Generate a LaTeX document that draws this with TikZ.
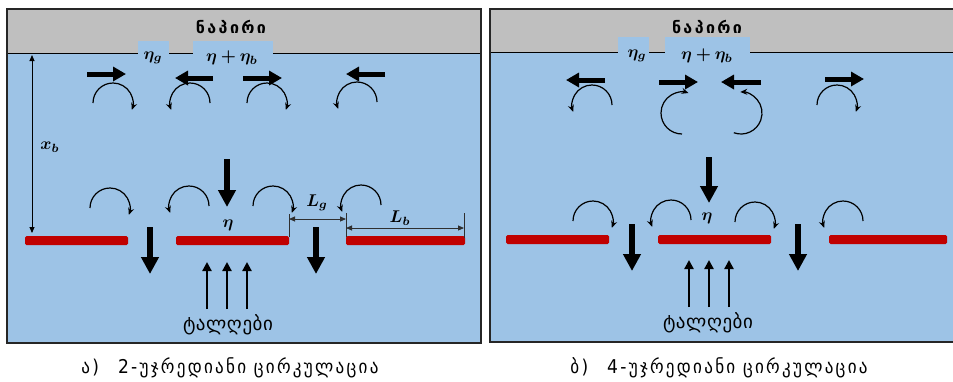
\documentclass[tikz,border=0pt]{standalone}
\usepackage{bm}
\usepackage{fontspec}
\newfontfamily\geo[LetterSpace=3]{DejaVu Sans}
\newfontfamily\geoshore[LetterSpace=15]{DejaVu Sans}
\newfontfamily\geocond[LetterSpace=12]{DejaVu Sans Condensed}
\usetikzlibrary{arrows.meta}
\definecolor{water}{HTML}{9DC3E6}
\definecolor{shore}{HTML}{BFBFBF}
\definecolor{barred}{HTML}{C00000}
\definecolor{dimgray}{HTML}{2F2F2F}
\tikzset{
  border/.style={draw=black!85, line width=1.6pt},
  thickarrow/.style={line width=5pt, -{Triangle[length=13pt,width=14pt]}},
  thickdown/.style={line width=5.5pt, -{Triangle[length=17pt,width=17pt]}},
  thinarc/.style={line width=1.2pt, -{Stealth[length=7pt,width=6pt]}},
  wavearrow/.style={line width=2.2pt, -{Triangle[length=9pt,width=9pt]}},
  dimline/.style={dimgray, line width=0.9pt, {Triangle[length=6pt,width=5pt]}-{Triangle[length=6pt,width=5pt]}},
  dimtick/.style={dimgray, line width=0.9pt},
  barbox/.style={fill=barred, rounded corners=1.5pt},
  mathlbl/.style={inner sep=0pt},
  shorelbl/.style={inner sep=0pt, font=\geoshore\bfseries\fontsize{16}{18}\selectfont},
  wavelbl/.style={inner sep=0pt, font=\geo\fontsize{19}{21}\selectfont},
  caplbl/.style={inner sep=0pt, font=\geocond\fontsize{19}{21}\selectfont},
}
\newcommand{\ml}[1]{\scalebox{1.7}{$\bm{#1}$}}
\newcommand{\rarc}[2]{\draw[thinarc] (#1,#2) ++(180:20) arc[start angle=180, end angle=380, radius=20];}
\newcommand{\larc}[2]{\draw[thinarc] (#1,#2) ++(0:20) arc[start angle=360, end angle=160, radius=20];}
\begin{document}
\begin{tikzpicture}[x=1pt,y=-1pt]
\useasboundingbox (0,0) rectangle (953,381);
% ---------- left panel ----------
\fill[water] (7,9) rectangle (481,343);
\fill[shore] (7,9) rectangle (481,53);
\draw[line width=1pt] (7,53) -- (481,53);
\fill[water] (138,41) rectangle (169,54.5);
\fill[water] (193,41) rectangle (273,54.5);
\draw[border] (7,9) rectangle (481,343);
\node[shorelbl] (shoreA) at (231,27) {ნაპირი};
\node[mathlbl] (etagA) at (153,58) {\ml{\eta_g}};
\node[mathlbl] (etabA) at (232,58) {\ml{\eta+\eta_b}};
% top thick arrows
\draw[thickarrow] (87,74) -- (126,74);
\draw[thickarrow] (213,78) -- (175,78);
\draw[thickarrow] (243,78) -- (282,78);
\draw[thickarrow] (385,74) -- (346,74);
% top arcs
\rarc{113}{103}
\larc{190}{103}
\rarc{267}{103}
\larc{357}{102}
% x_b
\coordinate (xbtop) at (32,55);
\coordinate (xbbot) at (32,233);
\draw[dimline, black] (xbtop) -- (xbbot);
\node[mathlbl] (xbA) at (50,147) {\ml{x_b}};
% middle
\draw[thickdown] (227,159) -- (227,207);
\rarc{110}{208}
\larc{189}{206}
\rarc{273}{206}
\larc{361}{205}
\node[mathlbl] (etaA) at (228,225) {\ml{\eta}};
% bars
\fill[barbox] (25,236) rectangle (128,245);
\fill[barbox] (176,236) rectangle (289,245);
\fill[barbox] (346,236) rectangle (465,245);
% gap arrows
\draw[thickdown] (150,227) -- (150,274);
\draw[thickdown] (316,227) -- (316,274);
% dimensions
\coordinate (lgA) at (289,219);
\coordinate (lgB) at (346,219);
\coordinate (lbB) at (464,228);
\coordinate (lbA) at (346,228);
\draw[dimtick] (289,214) -- (289,237);
\draw[dimtick] (346,213) -- (346,237);
\draw[dimtick] (464,213) -- (464,238);
\draw[dimline] (lgA) -- (lgB);
\draw[dimline] (lbA) -- (lbB);
\node[mathlbl] (LgA) at (317,203) {\ml{L_g}};
\node[mathlbl] (LbA) at (400,218) {\ml{L_b}};
% waves
\draw[wavearrow] (207,309) -- (207,262);
\draw[wavearrow] (227,309) -- (227,262);
\draw[wavearrow] (247,309) -- (247,262);
\node[wavelbl] (wavesA) at (228,325) {ტალღები};
% caption
\node[caplbl] (capA) at (230,368) {ა)\quad 2-უჯრედიანი ცირკულაცია};
% ---------- right panel ----------
\fill[water] (490,9) rectangle (956,342);
\fill[shore] (490,9) rectangle (956,52);
\draw[line width=1pt] (490,52) -- (956,52);
\fill[water] (618,37) rectangle (649,53.5);
\fill[water] (665,37) rectangle (750,53.5);
\draw[border] (490,9) rectangle (956,342);
\node[shorelbl] (shoreB) at (707,27) {ნაპირი};
\node[mathlbl] (etagB) at (637,56) {\ml{\eta_g}};
\node[mathlbl] (etabB) at (707,56) {\ml{\eta+\eta_b}};
% top thick arrows
\draw[thickarrow] (605,80) -- (566,80);
\draw[thickarrow] (659,82) -- (698,82);
\draw[thickarrow] (761,82) -- (721,82);
\draw[thickarrow] (825,79) -- (864,79);
% top arcs
\larc{592}{105}
\rarc{837}{105}
\draw[thinarc] (682,113) ++(90:21) arc[start angle=90, end angle=288, radius=21];
\draw[thinarc] (741,113) ++(110:21) arc[start angle=110, end angle=-92, radius=21];
% middle
\draw[thickdown] (709,157) -- (709,203);
\rarc{593}{221}
\larc{671}{220}
\rarc{755}{222}
\larc{843}{221}
\node[mathlbl] (etaB) at (707,218) {\ml{\eta}};
% bars
\fill[barbox] (506,235) rectangle (609,244);
\fill[barbox] (658,235) rectangle (771,244);
\fill[barbox] (829,235) rectangle (947,244);
% gap arrows
\draw[thickdown] (632,224) -- (632,271);
\draw[thickdown] (798,224) -- (798,271);
% waves
\draw[wavearrow] (689,307) -- (689,260);
\draw[wavearrow] (709,307) -- (709,260);
\draw[wavearrow] (729,307) -- (729,260);
\node[wavelbl] (wavesB) at (708,323) {ტალღები};
% caption
\node[caplbl] (capB) at (719,368) {ბ)\quad 4-უჯრედიანი ცირკულაცია};
\end{tikzpicture}
\end{document}
